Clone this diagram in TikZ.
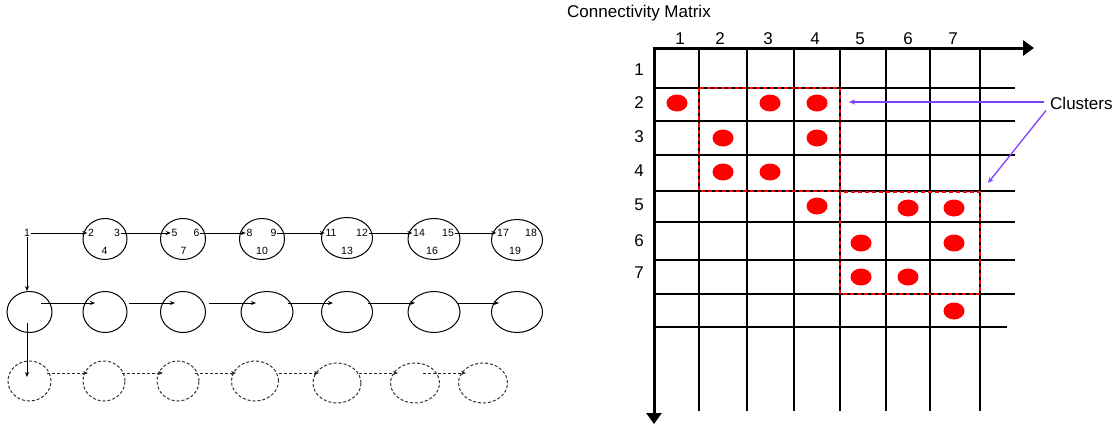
\documentclass[tikz,border=0pt]{standalone}
\usepackage{fontspec}
\setmainfont{Liberation Sans}
\usetikzlibrary{shapes.geometric,arrows.meta,calc}
\definecolor{clusterviolet}{RGB}{127,63,255}

\begin{document}
\begin{tikzpicture}[x=1pt,y=-1pt,
  oval/.style={draw,ellipse,inner sep=0pt,line width=1pt,minimum height=41pt},
  dashoval/.style={draw=black!80,ellipse,inner sep=0pt,line width=1pt,minimum height=40pt,dash pattern=on 3pt off 2pt},
  num/.style={inner sep=0.6pt,font=\fontsize{10.5}{12}\selectfont},
  link/.style={line width=0.9pt,-{Stealth[length=5pt,width=4pt]}},
  dlink/.style={link,draw=black!85,dash pattern=on 3pt off 2pt},
  gridline/.style={line width=1.4pt},
  axis/.style={line width=3pt,-{Triangle[length=11pt,width=15pt]}},
  hdr/.style={font=\fontsize{17}{20}\selectfont,inner sep=0pt},
  dot/.style={fill=red,ellipse,minimum width=21pt,minimum height=17pt,inner sep=0pt},
  clus/.style={draw=red,line width=1.5pt,dash pattern=on 4pt off 3pt},
  pointer/.style={draw=clusterviolet,line width=1.3pt,-{Stealth[length=6pt,width=5pt]}}
]
\useasboundingbox (0,0) rectangle (1117,431);

% ---------- left: grouped traversal ----------
% first row: labelled groups
\node[oval,minimum width=44pt] (t1) at (105,239) {};
\node[oval,minimum width=45pt] (t2) at (183,239) {};
\node[oval,minimum width=45pt] (t3) at (262,239) {};
\node[oval,minimum width=51pt] (t4) at (347,238) {};
\node[oval,minimum width=52pt] (t5) at (434,239) {};
\node[oval,minimum width=51pt] (t6) at (517,240) {};

\node[num] (n1) at (27,233) {1};
\node[num] (n2) at (91,233) {2};
\node[num] (n3) at (117,233) {3};
\node[num] (n4) at (104.5,251) {4};
\node[num] (n5) at (174.5,233) {5};
\node[num] (n6) at (196.5,233) {6};
\node[num] (n7) at (183.5,251) {7};
\node[num] (n8) at (249.5,233) {8};
\node[num] (n9) at (273.5,233) {9};
\node[num] (n10) at (262,251) {10};
\node[num] (n11) at (331,233) {11};
\node[num] (n12) at (362,233) {12};
\node[num] (n13) at (347,251) {13};
\node[num] (n14) at (419,233) {14};
\node[num] (n15) at (448,233) {15};
\node[num] (n16) at (432,251) {16};
\node[num] (n17) at (503,233) {17};
\node[num] (n18) at (531,233) {18};
\node[num] (n19) at (515,251) {19};

\draw[link] (n1) -- (n2);
\draw[link] (n3) -- (n5);
\draw[link] (n6) -- (n8);
\draw[link] (n9) -- (n11);
\draw[link] (n12) -- (n14);
\draw[link] (n15) -- (n17);

% second row: plain groups
\node[oval,minimum width=45pt] (m0) at (29.5,312) {};
\node[oval,minimum width=44pt] (m1) at (105,312) {};
\node[oval,minimum width=45pt] (m2) at (183,312) {};
\node[oval,minimum width=52pt] (m3) at (267,312) {};
\node[oval,minimum width=51pt] (m4) at (347,312) {};
\node[oval,minimum width=52pt] (m5) at (434,312) {};
\node[oval,minimum width=51pt] (m6) at (517,312) {};

\draw[link] ($(m0.center)+(11.5,-9)$) -- ($(m1.center)+(-10,-9)$);
\draw[link] ($(m1.center)+(24,-9)$) -- ($(m2.center)+(-8,-9)$);
\draw[link] ($(m2.center)+(26,-9)$) -- ($(m3.center)+(-11,-9)$);
\draw[link] ($(m3.center)+(21,-9)$) -- ($(m4.center)+(-14,-9)$);
\draw[link] ($(m4.center)+(21,-9)$) -- ($(m5.center)+(-19,-9)$);
\draw[link] ($(m5.center)+(23,-9)$) -- ($(m6.center)+(-18,-9)$);

% third row: pending groups
\node[dashoval,minimum width=43pt] (d0) at (29.5,381) {};
\node[dashoval,minimum width=42pt] (d1) at (104,381) {};
\node[dashoval,minimum width=42pt] (d2) at (178,381) {};
\node[dashoval,minimum width=47pt] (d3) at (255,381) {};
\node[dashoval,minimum width=48pt] (d4) at (337,383) {};
\node[dashoval,minimum width=49pt] (d5) at (415,383) {};
\node[dashoval,minimum width=49pt] (d6) at (483,383) {};

\draw[dlink] ($(d0.center)+(17.5,-8)$) -- ($(d1.center)+(-16,-8)$);
\draw[dlink] ($(d1.center)+(18,-8)$) -- ($(d2.center)+(-15,-8)$);
\draw[dlink] ($(d2.center)+(17,-8)$) -- ($(d3.center)+(-19,-8)$);
\draw[dlink] ($(d3.center)+(24,-8)$) -- ($(d4.center)+(-18,-10)$);
\draw[dlink] ($(d4.center)+(22,-10)$) -- ($(d5.center)+(-17,-10)$);
\draw[dlink] ($(d5.center)+(8,-10)$) -- ($(d6.center)+(-17,-10)$);

% downward links
\draw[link] (n1.south) -- (n1.south |- m0.north);
\draw[link] ($(m0.center)+(-2.5,11)$) -- ($(d0.center)+(-2.5,-4)$);

% ---------- right: connectivity matrix ----------
\node[hdr,anchor=base west] (title) at (567,17) {Connectivity Matrix};

% grid
\foreach \gx in {699,747,794,840,886,930,980}
  \draw[gridline] (\gx,48) -- (\gx,411);
\foreach \gy in {88,121,155,191,222,260,294}
  \draw[gridline] (654,\gy) -- (1015,\gy);
\draw[gridline] (654,327) -- (1007,327);

% cluster boxes
\draw[clus] (699,88) rectangle (840,191);
\draw[clus] (840,192) rectangle (980,294);

% axes
\draw[axis] (652.5,48) -- (1034,48);
\draw[axis] (654,46.5) -- (654,424);

% column and row indices
\foreach \i/\cx in {1/680,2/720,3/768,4/815,5/860,6/908,7/953}
  \node[hdr] (c\i) at (\cx,38.5) {\i};
\foreach \i/\ry in {1/70,2/102.5,3/137,4/171,5/205,6/241,7/273}
  \node[hdr] (r\i) at (639,\ry) {\i};

% connections
\foreach \dx/\dy in {677/103,770/103,817/103,
                     723/138,817/138,
                     723/172,770/172,
                     817/206,908/208,954/208,
                     861/243,954/243,
                     861/277,908/277,
                     954/311}
  \node[dot] at (\dx,\dy) {};

% cluster callout
\node[anchor=west,font=\fontsize{17}{20}\selectfont,inner sep=0pt] (clusters) at (1050,103) {Clusters};
\coordinate (c1tip) at (849,102);
\coordinate (c2tip) at (988,183);
\draw[pointer] ([xshift=-6pt,yshift=1pt]clusters.west) -- (c1tip);
\draw[pointer] ([xshift=-4pt,yshift=-1pt]clusters.south west) -- (c2tip);
\end{tikzpicture}
\end{document}
